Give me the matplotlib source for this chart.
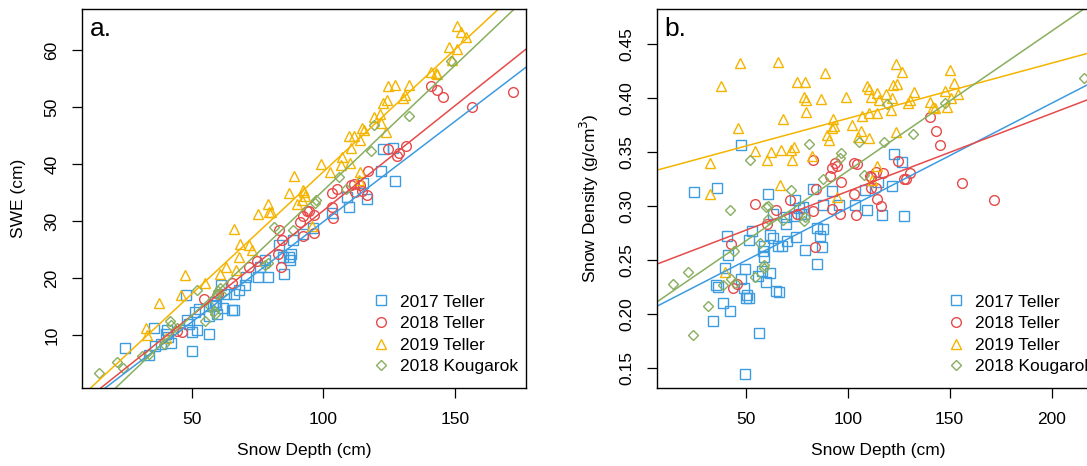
import matplotlib
matplotlib.use("Agg")
import matplotlib.pyplot as plt
from matplotlib.lines import Line2D

plt.rcParams["font.family"] = ["Liberation Sans", "DejaVu Sans"]

# ---- colours / labels -------------------------------------------------------
labels = ["2017 Teller", "2018 Teller", "2019 Teller", "2018 Kougarok"]
colors = ["#3d9be0", "#e64a4a", "#f5b400", "#88ae5e"]
markers = ["s", "o", "^", "D"]

# ---- panel a: SWE vs snow depth ---------------------------------------------
a_depth_2017 = [24.7, 35.8, 33.8, 35.9, 38.3, 40.1, 40.9, 42.0, 40.6, 50.0, 50.0,
                52.0, 49.0, 48.0, 51.3, 52.7, 47.7, 56.5, 56.5, 58.0, 59.0, 59.3,
                59.6, 61.0, 62.0, 63.0, 65.1, 66.2, 66.2, 68.1, 70.3, 70.5, 75.0,
                78.9, 75.9, 77.9, 83.1, 84.9, 84.8, 86.8, 87.8, 87.4, 88.6, 92.2,
                95.9, 103.3, 108.9, 109.9, 115.2, 116.5, 122.0, 122.8, 126.4, 127.4]
a_swe_2017 = [7.7, 11.3, 6.5, 8.1, 8.5, 10.3, 9.7, 8.7, 10.9, 7.2, 10.6,
              11.0, 11.9, 12.6, 14.1, 14.7, 17.0, 10.3, 13.3, 15.1, 15.8, 15.4,
              13.8, 18.9, 14.8, 17.2, 14.4, 14.4, 17.2, 17.9, 18.8, 20.2, 20.2,
              20.3, 22.0, 23.3, 25.9, 20.8, 23.7, 23.7, 24.3, 23.3, 26.7, 27.8,
              28.8, 31.5, 34.3, 32.5, 36.7, 34.0, 38.8, 42.6, 42.9, 37.0]

a_depth_2018 = [44.3, 46.2, 54.8, 60.0, 65.1, 71.6, 74.6, 82.9, 83.9, 84.4, 83.1,
                91.3, 92.2, 93.9, 94.6, 96.4, 96.4, 92.2, 103.1, 103.7, 103.1,
                105.0, 110.5, 111.5, 111.9, 113.8, 114.7, 116.5, 117.1, 124.6,
                127.8, 128.7, 131.4, 140.9, 143.2, 145.6, 156.5, 172.0]
a_swe_2018 = [10.8, 10.5, 16.4, 17.3, 19.2, 22.0, 23.0, 24.3, 22.0, 26.8, 28.5,
              29.9, 30.9, 31.8, 31.8, 31.1, 28.0, 27.4, 32.5, 30.5, 35.0,
              35.6, 36.3, 36.6, 35.1, 36.3, 35.3, 34.6, 38.8, 42.6,
              41.4, 41.9, 43.2, 53.8, 53.0, 51.8, 50.1, 52.6]

a_depth_2019 = [32.7, 33.0, 37.6, 47.4, 46.0, 54.9, 60.6, 62.9, 66.0, 68.3, 68.0,
                66.7, 71.8, 72.8, 75.3, 79.0, 79.4, 80.2, 86.9, 89.0, 89.8, 92.3,
                92.8, 93.2, 92.0, 95.8, 99.2, 102.7, 107.1, 106.7, 110.3, 109.8,
                110.6, 111.6, 114.1, 114.8, 115.3, 114.1, 113.6, 119.3, 121.6,
                121.9, 123.8, 122.7, 124.2, 124.4, 127.2, 130.3, 131.0, 132.5,
                141.0, 142.6, 143.2, 147.9, 148.8, 150.7, 150.9, 152.3, 154.3, 40.1]
a_swe_2019 = [11.2, 10.1, 15.6, 20.6, 17.1, 19.2, 20.8, 21.9, 28.6, 26.0, 23.8,
              21.5, 25.9, 25.0, 31.3, 33.0, 31.6, 31.6, 34.9, 37.9, 33.0, 35.5,
              35.2, 34.4, 33.8, 29.2, 40.1, 38.6, 41.3, 39.8, 40.3, 45.0,
              42.8, 45.0, 44.3, 46.4, 46.0, 38.6, 37.3, 48.3, 48.8,
              47.2, 45.6, 50.8, 51.3, 53.8, 53.9, 51.7, 52.2, 54.0,
              56.2, 56.1, 55.9, 60.6, 58.3, 64.3, 60.3, 63.2, 62.4, 9.6]

a_depth_koug = [14.7, 21.6, 23.8, 31.0, 33.8, 41.8, 39.6, 42.3, 44.3, 52.1, 55.2,
                57.0, 58.3, 59.0, 59.6, 60.0, 60.8, 61.0, 77.9, 78.8, 81.2, 88.3,
                96.7, 97.2, 105.9, 108.5, 118.1, 119.4, 132.4, 148.3]
a_swe_koug = [3.3, 5.3, 4.3, 6.3, 6.8, 12.5, 8.5, 11.8, 11.2, 17.9, 12.5,
              15.1, 14.3, 13.8, 17.3, 17.8, 18.3, 17.3, 22.4, 22.6, 29.0, 28.5,
              33.3, 33.7, 37.8, 35.6, 42.3, 46.9, 48.4, 58.2]

# fitted lines (intercept, slope), same order as labels
a_intercepts = [-5.27, -4.92, -4.20, -8.49]
a_slopes = [0.352, 0.368, 0.429, 0.439]

# ---- panel b: density vs snow depth -----------------------------------------
b_depth_2017 = [24.7, 35.8, 47.6, 40.6, 41.1, 40.1, 35.4, 36.6, 38.9, 42.3, 33.9,
                47.6, 49.1, 49.5, 50.0, 50.7, 51.7, 51.7, 52.9, 49.8, 56.7, 56.0,
                58.2, 58.6, 59.1, 59.2, 59.9, 61.8, 60.8, 62.0, 63.2, 63.2, 64.9,
                66.3, 65.8, 67.8, 70.0, 69.7, 70.5, 73.5, 74.3, 74.8, 76.0, 76.9,
                78.1, 78.6, 78.9, 82.9, 85.0, 85.1, 86.3, 87.2, 87.7, 88.0, 92.3,
                95.7, 103.4, 109.6, 108.6, 115.0, 116.7, 121.7, 122.6, 126.5, 127.4]
b_dens_2017 = [0.313, 0.317, 0.357, 0.272, 0.255, 0.243, 0.227, 0.225, 0.210, 0.203,
               0.193, 0.232, 0.224, 0.242, 0.215, 0.218, 0.215, 0.269, 0.277, 0.144,
               0.182, 0.235, 0.240, 0.258, 0.263, 0.253, 0.230, 0.238, 0.311, 0.273,
               0.270, 0.293, 0.221, 0.220, 0.263, 0.263, 0.283, 0.290, 0.268, 0.291,
               0.306, 0.271, 0.298, 0.293, 0.299, 0.293, 0.259, 0.316, 0.280, 0.246,
               0.272, 0.262, 0.279, 0.301, 0.314, 0.301, 0.301, 0.296, 0.315, 0.322,
               0.292, 0.319, 0.348, 0.341, 0.291]

b_depth_2018 = [42.6, 44.0, 45.7, 54.6, 60.3, 65.1, 71.9, 75.2, 83.2, 84.6, 82.9,
                83.9, 91.4, 92.5, 94.0, 94.9, 96.6, 92.5, 96.2, 102.9, 104.8, 103.1,
                103.9, 110.8, 111.6, 111.5, 113.7, 114.6, 116.4, 117.1, 114.0, 124.8,
                127.4, 128.8, 130.8, 140.6, 143.2, 145.4, 156.2, 171.9]
b_dens_2018 = [0.265, 0.224, 0.228, 0.302, 0.283, 0.296, 0.306, 0.293, 0.343, 0.316,
               0.295, 0.262, 0.328, 0.335, 0.340, 0.337, 0.322, 0.297, 0.293, 0.340,
               0.339, 0.311, 0.292, 0.328, 0.317, 0.327, 0.317, 0.307, 0.300, 0.331,
               0.332, 0.342, 0.325, 0.325, 0.331, 0.383, 0.370, 0.357, 0.321, 0.306]

b_depth_2019 = [32.7, 32.7, 37.7, 46.1, 47.1, 54.6, 60.6, 62.3, 65.9, 66.6, 67.5,
                68.2, 72.4, 72.9, 73.5, 75.2, 78.6, 78.9, 79.5, 79.8, 82.5, 86.8,
                88.9, 90.1, 90.8, 92.3, 92.8, 93.5, 94.9, 99.1, 102.2, 105.1, 106.5,
                106.8, 109.4, 110.3, 110.3, 110.6, 111.6, 114.2, 114.2, 114.5, 115.2,
                118.8, 121.4, 121.9, 122.4, 123.6, 124.0, 123.6, 126.7, 129.6, 130.5,
                132.5, 140.2, 141.9, 142.8, 147.6, 148.8, 150.2, 150.5, 152.2, 153.9,
                40.1, 112.0]
b_dens_2019 = [0.340, 0.311, 0.411, 0.372, 0.433, 0.351, 0.343, 0.350, 0.434, 0.320,
               0.352, 0.381, 0.352, 0.343, 0.355, 0.415, 0.401, 0.415, 0.398, 0.387,
               0.346, 0.399, 0.423, 0.366, 0.361, 0.372, 0.381, 0.374, 0.308, 0.401,
               0.375, 0.364, 0.370, 0.384, 0.411, 0.363, 0.386, 0.409, 0.401, 0.386,
               0.337, 0.405, 0.398, 0.404, 0.389, 0.400, 0.412, 0.432, 0.413, 0.369,
               0.424, 0.396, 0.398, 0.406, 0.397, 0.392, 0.391, 0.407, 0.392, 0.426,
               0.400, 0.414, 0.404, 0.239, 0.324]

b_depth_koug = [14.4, 21.9, 24.1, 31.5, 38.7, 42.1, 42.6, 44.3, 44.7, 52.1, 54.6,
                56.8, 58.9, 59.2, 59.8, 61.0, 61.0, 68.3, 72.3, 78.6, 78.9, 81.2,
                88.0, 96.2, 96.9, 105.5, 108.0, 118.0, 119.2, 132.2, 147.6, 215.8]
b_dens_koug = [0.228, 0.239, 0.180, 0.207, 0.227, 0.296, 0.232, 0.258, 0.229, 0.343,
               0.234, 0.266, 0.243, 0.245, 0.299, 0.300, 0.288, 0.287, 0.315, 0.286,
               0.290, 0.358, 0.325, 0.345, 0.349, 0.359, 0.329, 0.359, 0.395, 0.367,
               0.396, 0.419]

b_intercepts = [0.2008, 0.2415, 0.330, 0.2027]
b_slopes = [0.000973, 0.000722, 0.000513, 0.001298]


def style_axes(ax):
    for side in ax.spines.values():
        side.set_linewidth(1.0)
    ax.tick_params(direction="out", length=7, width=0.9, labelsize=12.5)
    ax.tick_params(axis="x", pad=10)
    ax.tick_params(axis="y", pad=9)
    for lab in ax.get_yticklabels():
        lab.set_rotation(90)
        lab.set_va("center")


def draw_panel(ax, xs, ys, intercepts, slopes):
    for x, y, c, m in zip(xs, ys, colors, markers):
        ax.plot(x, y, ls="none", marker=m, ms=7 if m != "D" else 5.6,
                mfc="none", mec=c, mew=1.0)
    for b0, b1, c in zip(intercepts, slopes, colors):
        ax.axline((0, b0), slope=b1, color=c, lw=1.1)
    handles = [Line2D([], [], ls="none", marker=m, ms=7 if m != "D" else 5.6,
                      mfc="none", mec=c, mew=1.0)
               for m, c in zip(markers, colors)]
    ax.legend(handles, labels, loc="lower left", bbox_to_anchor=(0.655, 0.037),
              frameon=False, fontsize=12.5, handlelength=1.0,
              handletextpad=0.6, labelspacing=0.37, borderpad=0,
              borderaxespad=0)


fig = plt.figure(figsize=(10.87, 4.66), dpi=100)
ax_a = fig.add_axes([0.0752, 0.1667, 0.4085, 0.814])
ax_b = fig.add_axes([0.604, 0.1667, 0.4085, 0.814])

# --- a: SWE ---
draw_panel(ax_a, [a_depth_2017, a_depth_2018, a_depth_2019, a_depth_koug],
           [a_swe_2017, a_swe_2018, a_swe_2019, a_swe_koug], a_intercepts, a_slopes)
ax_a.set_xlim(8.2, 176.9)
ax_a.set_ylim(0.7, 67.25)
ax_a.set_xticks([50, 100, 150])
ax_a.set_yticks([10, 20, 30, 40, 50, 60])
style_axes(ax_a)
ax_a.set_xlabel("Snow Depth (cm)", fontsize=12.5)
ax_a.set_ylabel("SWE (cm)", fontsize=12.5)
ax_a.xaxis.set_label_coords(0.5, -0.1635)
ax_a.xaxis.label.set_va("center")
ax_a.yaxis.set_label_coords(-0.1435, 0.5)
ax_a.yaxis.label.set_va("center")
ax_a.text(0.019, 1 - 27 / 379.3, "a.", transform=ax_a.transAxes,
          fontsize=19, va="baseline")

# --- b: density ---
draw_panel(ax_b, [b_depth_2017, b_depth_2018, b_depth_2019, b_depth_koug],
           [b_dens_2017, b_dens_2018, b_dens_2019, b_dens_koug], b_intercepts, b_slopes)
ax_b.set_xlim(6.3, 224.0)
ax_b.set_ylim(0.131, 0.4828)
ax_b.set_xticks([50, 100, 150, 200])
ax_b.set_yticks([0.15, 0.20, 0.25, 0.30, 0.35, 0.40, 0.45])
ax_b.set_yticklabels(["0.15", "0.20", "0.25", "0.30", "0.35", "0.40", "0.45"])
style_axes(ax_b)
ax_b.set_xlabel("Snow Depth (cm)", fontsize=12.5)
ax_b.set_ylabel("Snow Density (g/cm$^3$)", fontsize=12.5)
ax_b.xaxis.set_label_coords(0.5, -0.1635)
ax_b.xaxis.label.set_va("center")
ax_b.yaxis.set_label_coords(-0.1514, 0.5)
ax_b.yaxis.label.set_va("center")
ax_b.text(0.018, 1 - 27 / 379.3, "b.", transform=ax_b.transAxes,
          fontsize=19, va="baseline")

fig.savefig("out.png", dpi=100)
